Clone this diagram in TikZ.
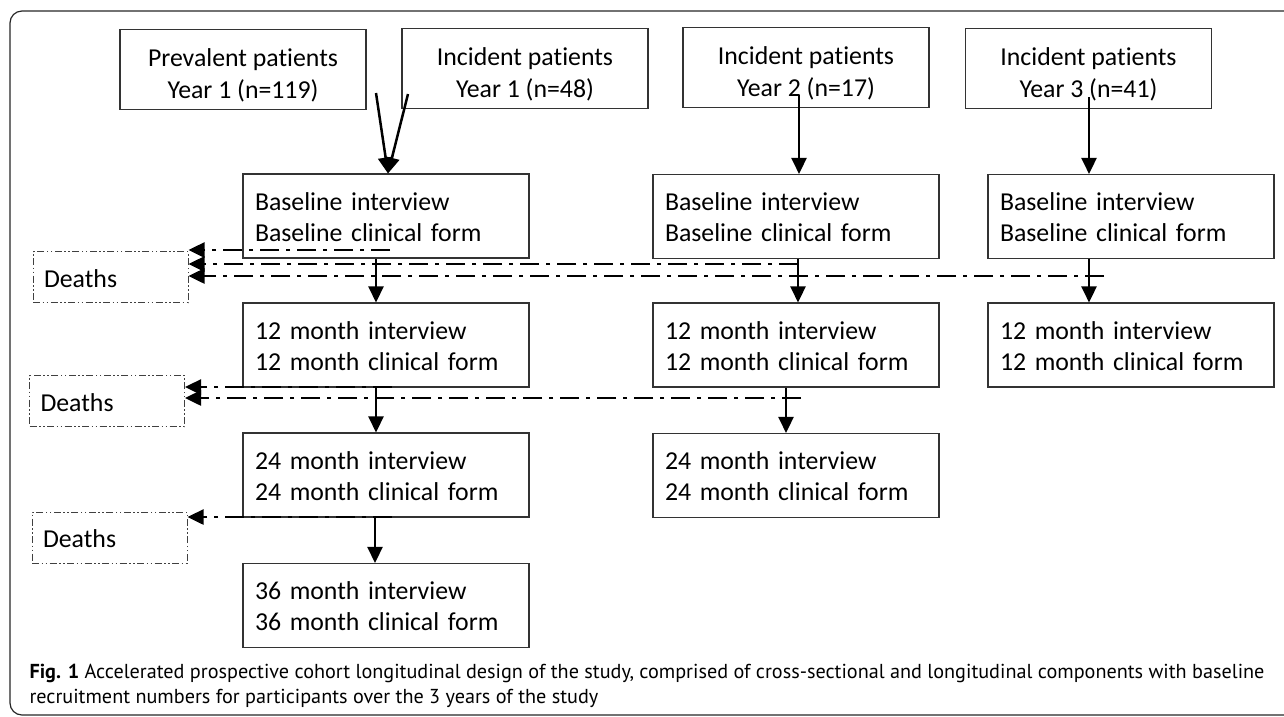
\documentclass[tikz,border=0pt]{standalone}
\usepackage{fontspec}
\setmainfont{Carlito}[Ligatures=NoCommon]
\newfontfamily\capfont{PT Sans}
\usetikzlibrary{arrows.meta}
\tikzset{
  box/.style={draw=black!80, line width=1.1pt, minimum width=246pt, minimum height=79pt,
    text height=65pt, text depth=8pt, align=center, font=\fontsize{25.8}{32}\selectfont},
  ibox/.style={draw=black!80, line width=1.1pt, minimum height=84pt, text width=262pt,
    text height=20pt, text depth=32pt, inner xsep=12pt, align=left,
    font=\fontsize{25.8}{31}\selectfont},
  dbox/.style={draw=black!75, line width=1pt,
    dash pattern=on 7pt off 2.5pt on 1.5pt off 2.5pt on 1.5pt off 2.5pt,
    minimum width=155pt, minimum height=51pt, text width=133pt, inner xsep=11pt,
    text height=26pt, text depth=6pt, align=left, font=\fontsize{25.8}{31}\selectfont},
  arr/.style={line width=2.5pt, -{Triangle[length=16pt,width=15pt]}},
  darr/.style={arr, dash pattern=on 19pt off 7pt on 4pt off 7pt},
}
\begin{document}
\begin{tikzpicture}[x=1pt,y=-1pt]
  \useasboundingbox (0,0) rectangle (1284,716);
  \draw[rounded corners=12pt, line width=1.2pt, black!85] (10,11) rectangle (1296,715);
  % recruitment
  \node[box] (prev) at (243,69.5) {Prevalent patients\\Year 1 (n=119)};
  \node[box] (inc1) at (525,68.5) {Incident patients\\Year 1 (n=48)};
  \node[box] (inc2) at (806,67.5) {Incident patients\\Year 2 (n=17)};
  \node[box] (inc3) at (1088.5,68.5) {Incident patients\\Year 3 (n=41)};
  % follow-up
  \node[ibox] (base1) at (386,216) {Baseline interview\\Baseline clinical form};
  \node[ibox] (base2) at (796,216.5) {Baseline interview\\Baseline clinical form};
  \node[ibox] (base3) at (1131,216.5) {Baseline interview\\Baseline clinical form};
  \node[ibox] (m12a) at (386,345) {12 month interview\\12 month clinical form};
  \node[ibox] (m12b) at (796,345) {12 month interview\\12 month clinical form};
  \node[ibox] (m12c) at (1131,345) {12 month interview\\12 month clinical form};
  \node[ibox] (m24a) at (386,475) {24 month interview\\24 month clinical form};
  \node[ibox] (m24b) at (796,475.5) {24 month interview\\24 month clinical form};
  \node[ibox] (m36a) at (386,605.5) {36 month interview\\36 month clinical form};
  % deaths
  \node[dbox] (d1) at (110.5,277) {Deaths};
  \node[dbox] (d2) at (107,401) {Deaths};
  \node[dbox] (d3) at (109.5,537.5) {Deaths};
  \node[anchor=base west, align=left, font=\capfont\fontsize{20.2}{25}\selectfont] (cap)
    at (26,703) {\textbf{Fig. 1} Accelerated prospective cohort longitudinal design of the study, comprised of cross-sectional and longitudinal components with baseline\\recruitment numbers for participants over the 3 years of the study};
  \coordinate (p0) at (376,93);
  \coordinate (q0) at (408,94);
  \coordinate (c2) at (799,95);
  \coordinate (c3) at (1089,97);
  \coordinate (k1) at (390,250);
  \coordinate (k2) at (798,264);
  \coordinate (k3) at (1104,276);
  \coordinate (k4) at (392,387);
  \coordinate (k5) at (801,398);
  \coordinate (k6) at (392,517);
  \draw[arr] (p0) -- ([xshift=2pt]base1.north);
  \draw[arr] (q0) -- ([xshift=2pt]base1.north);
  \draw[arr] (c2) -- (c2 |- base2.north);
  \draw[arr] (c3) -- (c3 |- base3.north);
  \draw[arr] ([xshift=-10pt]base1.south) -- ([xshift=-10pt]m12a.north);
  \draw[arr] ([xshift=2pt]base2.south) -- ([xshift=2pt]m12b.north);
  \draw[arr] ([xshift=-42pt]base3.south) -- ([xshift=-42pt]m12c.north);
  \draw[arr] ([xshift=-10pt]m12a.south) -- ([xshift=-10pt]m24a.north);
  \draw[arr] ([xshift=-10pt]m12b.south) -- ([xshift=-10pt]m24b.north);
  \draw[arr] ([xshift=-11pt]m24a.south) -- ([xshift=-11pt]m36a.north);
  \draw[darr] (k1) -- (k1 -| d1.east);
  \draw[darr] (k2) -- (k2 -| d1.east);
  \draw[darr] (k3) -- (k3 -| d1.east);
  \draw[darr] (k4) -- (k4 -| d2.east);
  \draw[darr] (k5) -- (k5 -| d2.east);
  \draw[darr] (k6) -- (k6 -| d3.east);
\end{tikzpicture}
\end{document}
